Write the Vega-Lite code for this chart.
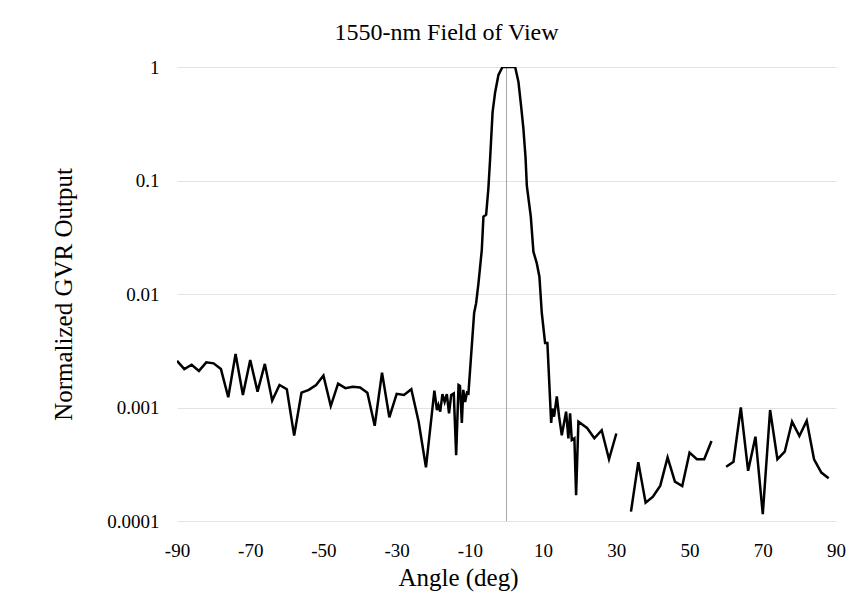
{
  "$schema": "https://vega.github.io/schema/vega-lite/v6.json",
  "autosize": "none",
  "width": 659,
  "height": 454,
  "padding": {"left": 177, "top": 67, "right": 23, "bottom": 87},
  "background": "white",
  "config": {
    "view": {"stroke": null},
    "font": "Liberation Serif",
    "axis": {"labelFont": "Liberation Serif", "titleFont": "Liberation Serif", "labelColor": "#000000", "titleColor": "#000000", "titleFontWeight": "normal", "gridColor": "#e3e3e3", "gridWidth": 1, "ticks": false, "domain": false}
  },
  "title": {"text": "1550-nm Field of View", "font": "Liberation Serif", "fontSize": 24, "fontWeight": "normal", "color": "#000000", "anchor": "middle", "dx": -60, "offset": 13},
  "data": {"values": [
    {"angle": -90, "output": 0.00258}, {"angle": -88, "output": 0.00218}, {"angle": -86, "output": 0.00238}, {"angle": -84, "output": 0.0021},
    {"angle": -82, "output": 0.0025}, {"angle": -80, "output": 0.00245}, {"angle": -78, "output": 0.00218}, {"angle": -76, "output": 0.00123},
    {"angle": -74, "output": 0.00296}, {"angle": -72, "output": 0.00129}, {"angle": -70, "output": 0.00262}, {"angle": -68, "output": 0.00138},
    {"angle": -66, "output": 0.00242}, {"angle": -64, "output": 0.00115}, {"angle": -62, "output": 0.00158}, {"angle": -60, "output": 0.00145},
    {"angle": -58, "output": 0.000565}, {"angle": -56, "output": 0.00135}, {"angle": -54, "output": 0.00143}, {"angle": -52, "output": 0.00158},
    {"angle": -50, "output": 0.00191}, {"angle": -48, "output": 0.00103}, {"angle": -46, "output": 0.00162}, {"angle": -44, "output": 0.00148},
    {"angle": -42, "output": 0.00152}, {"angle": -40, "output": 0.0015}, {"angle": -38, "output": 0.00135}, {"angle": -36, "output": 0.00069},
    {"angle": -34, "output": 0.00203}, {"angle": -32, "output": 0.00082}, {"angle": -30, "output": 0.00132}, {"angle": -28, "output": 0.00129},
    {"angle": -26, "output": 0.00145}, {"angle": -24, "output": 0.00075}, {"angle": -22, "output": 0.000297},
    {"angle": -19.7, "output": 0.00141}, {"angle": -19.0, "output": 0.00095}, {"angle": -18.6, "output": 0.00105}, {"angle": -18.1, "output": 0.00092},
    {"angle": -17.5, "output": 0.00131}, {"angle": -16.9, "output": 0.00112}, {"angle": -16.3, "output": 0.00131}, {"angle": -15.7, "output": 0.00089},
    {"angle": -15.1, "output": 0.00129}, {"angle": -14.4, "output": 0.00133}, {"angle": -13.75, "output": 0.00038}, {"angle": -13.1, "output": 0.00158},
    {"angle": -12.7, "output": 0.00155}, {"angle": -12.2, "output": 0.00073}, {"angle": -11.8, "output": 0.00143}, {"angle": -11.3, "output": 0.00112},
    {"angle": -10.8, "output": 0.00135}, {"angle": -10.4, "output": 0.00133},
    {"angle": -8.84, "output": 0.0068}, {"angle": -8.3, "output": 0.0083}, {"angle": -7.66, "output": 0.0124}, {"angle": -6.75, "output": 0.0244},
    {"angle": -6.3, "output": 0.048}, {"angle": -5.56, "output": 0.05}, {"angle": -4.95, "output": 0.085}, {"angle": -4.5, "output": 0.15},
    {"angle": -3.8, "output": 0.4}, {"angle": -3.1, "output": 0.6}, {"angle": -2.2, "output": 0.85}, {"angle": -1.1, "output": 1.0},
    {"angle": 0, "output": 1.0}, {"angle": 1.2, "output": 1.0}, {"angle": 2.36, "output": 1.0}, {"angle": 3.26, "output": 0.74},
    {"angle": 4.0, "output": 0.45}, {"angle": 4.6, "output": 0.29}, {"angle": 5.2, "output": 0.16}, {"angle": 5.55, "output": 0.09},
    {"angle": 6.64, "output": 0.048}, {"angle": 7.35, "output": 0.0236}, {"angle": 8.28, "output": 0.0186}, {"angle": 8.99, "output": 0.0142},
    {"angle": 9.64, "output": 0.0068}, {"angle": 10.54, "output": 0.0037}, {"angle": 11.17, "output": 0.0037},
    {"angle": 12.2, "output": 0.00073}, {"angle": 12.54, "output": 0.00098}, {"angle": 13.0, "output": 0.00083}, {"angle": 13.74, "output": 0.00125},
    {"angle": 14.37, "output": 0.00083}, {"angle": 15.1, "output": 0.00057}, {"angle": 16.28, "output": 0.00092}, {"angle": 16.9, "output": 0.000535},
    {"angle": 17.37, "output": 0.00089}, {"angle": 17.83, "output": 0.000517}, {"angle": 18.54, "output": 0.000535}, {"angle": 19.01, "output": 0.000169},
    {"angle": 19.64, "output": 0.00075}, {"angle": 22, "output": 0.00066}, {"angle": 24, "output": 0.000535}, {"angle": 26, "output": 0.00063},
    {"angle": 28, "output": 0.00035}, {"angle": 30, "output": 0.00059}, {"angle": 32, "output": null},
    {"angle": 34, "output": 0.000121}, {"angle": 36, "output": 0.00033}, {"angle": 38, "output": 0.000145}, {"angle": 40, "output": 0.000164},
    {"angle": 42, "output": 0.000205}, {"angle": 44, "output": 0.000364}, {"angle": 46, "output": 0.000222}, {"angle": 48, "output": 0.000203},
    {"angle": 50, "output": 0.0004}, {"angle": 52, "output": 0.00035}, {"angle": 54, "output": 0.00035}, {"angle": 56, "output": 0.000507},
    {"angle": 58, "output": null},
    {"angle": 60, "output": 0.000301}, {"angle": 62, "output": 0.000333}, {"angle": 64, "output": 0.001}, {"angle": 66, "output": 0.000277},
    {"angle": 68, "output": 0.000553}, {"angle": 70, "output": 0.000115}, {"angle": 72, "output": 0.00095}, {"angle": 74, "output": 0.00035},
    {"angle": 76, "output": 0.000408}, {"angle": 78, "output": 0.00075}, {"angle": 80, "output": 0.000561}, {"angle": 82, "output": 0.000765},
    {"angle": 84, "output": 0.00035}, {"angle": 86, "output": 0.000267}, {"angle": 88, "output": 0.000238}
  ]},
  "layer": [
    {
      "mark": {"type": "rule", "color": "#a6a6a6", "strokeWidth": 1},
      "encoding": {"x": {"datum": 0, "type": "quantitative"}}
    },
    {
      "mark": {"type": "line", "color": "#000000", "strokeWidth": 2.5, "clip": true},
      "encoding": {
        "x": {"field": "angle", "type": "quantitative",
          "scale": {"domain": [-90, 90], "nice": false, "zero": false},
          "axis": {"title": "Angle (deg)", "values": [-90, -70, -50, -30, -10, 10, 30, 50, 70, 90], "labelExpr": "'' + datum.value", "labelFontSize": 19, "titleFontSize": 25, "labelPadding": 20, "titlePadding": 5, "titleX": 281, "titleAlign": "center", "labelFlush": false}},
        "y": {"field": "output", "type": "quantitative",
          "scale": {"type": "log", "domain": [0.0001, 1], "nice": false},
          "axis": {"title": "Normalized GVR Output", "values": [0.0001, 0.001, 0.01, 0.1, 1], "format": "~g", "labelFontSize": 19, "titleFontSize": 25, "labelPadding": 18, "titlePadding": 30}}
      }
    }
  ]
}
